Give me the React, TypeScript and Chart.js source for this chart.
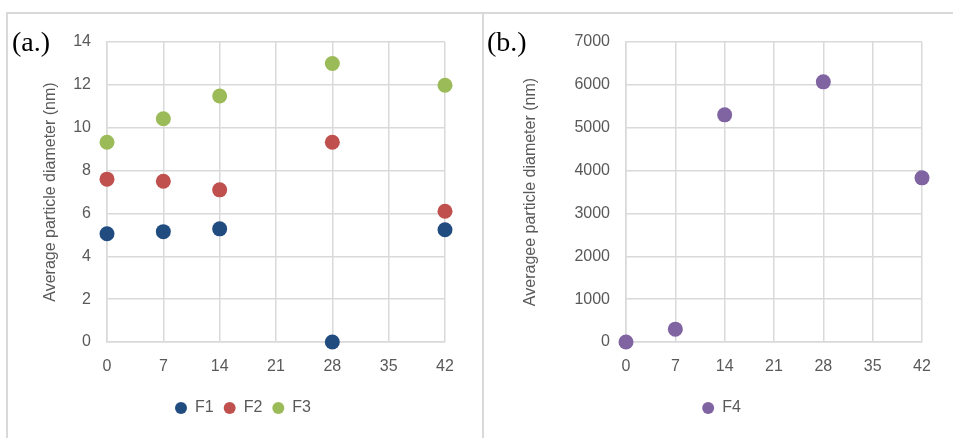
import React, { useEffect, useRef } from "react";
import { Chart, registerables } from "chart.js";

Chart.register(...registerables);

// Storage time (days) shared by both panels
const days = [0, 7, 14, 28, 42];

// Panel (a.): average particle diameter (nm)
const f1 = [5.05, 5.15, 5.28, 0, 5.24];
const f2 = [7.6, 7.5, 7.1, 9.32, 6.1];
const f3 = [9.32, 10.42, 11.48, 13.0, 11.98];

// Panel (b.): average particle diameter (nm)
const f4 = [0, 300, 5300, 6070, 3830];

const xTicks = { min: 0, max: 42, step: 7 };
const yTicksA = { min: 0, max: 14, step: 2 };
const yTicksB = { min: 0, max: 7000, step: 1000 };

const titleA = "Average particle diameter (nm)";
const titleB = "Averagee particle diameter (nm)";

const COLORS = {
  F1: "#214C80",
  F2: "#C0504D",
  F3: "#9BBB59",
  F4: "#8064A2",
};

const FONT = "'Liberation Sans', Arial, sans-serif";
const TEXT = "#595959";
const GRID = "#d9d9d9";

type Series = { label: string; values: number[]; color: string };

type PanelProps = {
  series: Series[];
  yRange: { min: number; max: number; step: number };
  yTitle: string;
  width: number;
  height: number;
  padLeft: number;
  padRight: number;
  yAxisWidth: number;
};

function ScatterPanel(props: PanelProps) {
  const ref = useRef<HTMLCanvasElement | null>(null);
  useEffect(() => {
    if (!ref.current) return;
    const chart = new Chart(ref.current, {
      type: "scatter",
      data: {
        datasets: props.series.map((s) => ({
          label: s.label,
          data: days.map((d, i) => ({ x: d, y: s.values[i] })),
          backgroundColor: s.color,
          borderColor: s.color,
          borderWidth: 0,
          pointRadius: 7.5,
          pointHoverRadius: 7.5,
          clip: false as any,
        })),
      },
      options: {
        responsive: false,
        animation: false,
        layout: {
          padding: { top: 28, right: props.padRight, left: props.padLeft, bottom: 12 },
        },
        plugins: {
          tooltip: { enabled: false },
          legend: {
            position: "bottom",
            labels: {
              usePointStyle: true,
              pointStyle: "circle",
              boxHeight: 8.5,
              pointStyleWidth: 12,
              padding: 10,
              color: TEXT,
              font: { family: FONT, size: 16 },
            },
          },
        },
        scales: {
          x: {
            type: "linear",
            min: xTicks.min,
            max: xTicks.max,
            ticks: {
              stepSize: xTicks.step,
              padding: 15,
              color: TEXT,
              font: { family: FONT, size: 16 },
            },
            grid: { color: GRID, lineWidth: 1.5, drawTicks: false },
            border: { color: GRID, width: 1.5 },
            afterFit: (scale: any) => {
              scale.height = 48;
            },
          },
          y: {
            type: "linear",
            min: props.yRange.min,
            max: props.yRange.max,
            ticks: {
              stepSize: props.yRange.step,
              padding: 16,
              color: TEXT,
              font: { family: FONT, size: 16 },
              callback: (v: any) => String(v),
            },
            grid: { color: GRID, lineWidth: 1.5, drawTicks: false },
            border: { color: GRID, width: 1.5 },
            title: {
              display: true,
              text: props.yTitle,
              color: TEXT,
              font: { family: FONT, size: 16 },
              padding: 0,
            },
            afterFit: (scale: any) => {
              scale.width = props.yAxisWidth;
            },
          },
        },
      },
    });
    return () => chart.destroy();
  }, []);
  return (
    <canvas
      ref={ref}
      width={props.width}
      height={props.height}
      style={{ display: "block", width: props.width, height: props.height }}
    />
  );
}

const panelLabel: React.CSSProperties = {
  position: "absolute",
  fontFamily: "'Liberation Serif', 'Times New Roman', serif",
  fontSize: 28,
  color: "#000",
  lineHeight: 1,
};

export default function App() {
  return (
    <div
      style={{
        position: "fixed",
        left: 0,
        top: 0,
        width: 953,
        height: 438,
        background: "#fff",
        overflow: "hidden",
      }}
    >
      {/* frames around the two panels */}
      <div
        style={{
          position: "absolute",
          left: 6,
          top: 12,
          width: 478,
          height: 440,
          boxSizing: "border-box",
          borderLeft: `2px solid ${GRID}`,
          borderTop: `2px solid ${GRID}`,
          borderRight: `2px solid ${GRID}`,
        }}
      />
      <div
        style={{
          position: "absolute",
          left: 484,
          top: 12,
          width: 480,
          height: 2,
          background: GRID,
        }}
      />
      <div style={{ position: "absolute", left: 8, top: 14 }}>
        <ScatterPanel
          series={[
            { label: "F1", values: f1, color: COLORS.F1 },
            { label: "F2", values: f2, color: COLORS.F2 },
            { label: "F3", values: f3, color: COLORS.F3 },
          ]}
          yRange={yTicksA}
          yTitle={titleA}
          width={474}
          height={424}
          padLeft={33}
          padRight={37}
          yAxisWidth={66}
        />
      </div>
      <div style={{ position: "absolute", left: 486, top: 14 }}>
        <ScatterPanel
          series={[{ label: "F4", values: f4, color: COLORS.F4 }]}
          yRange={yTicksB}
          yTitle={titleB}
          width={467}
          height={424}
          padLeft={35}
          padRight={31}
          yAxisWidth={105}
        />
      </div>
      <div style={{ ...panelLabel, left: 12, top: 28 }}>(a.)</div>
      <div style={{ ...panelLabel, left: 487, top: 28 }}>(b.)</div>
    </div>
  );
}
